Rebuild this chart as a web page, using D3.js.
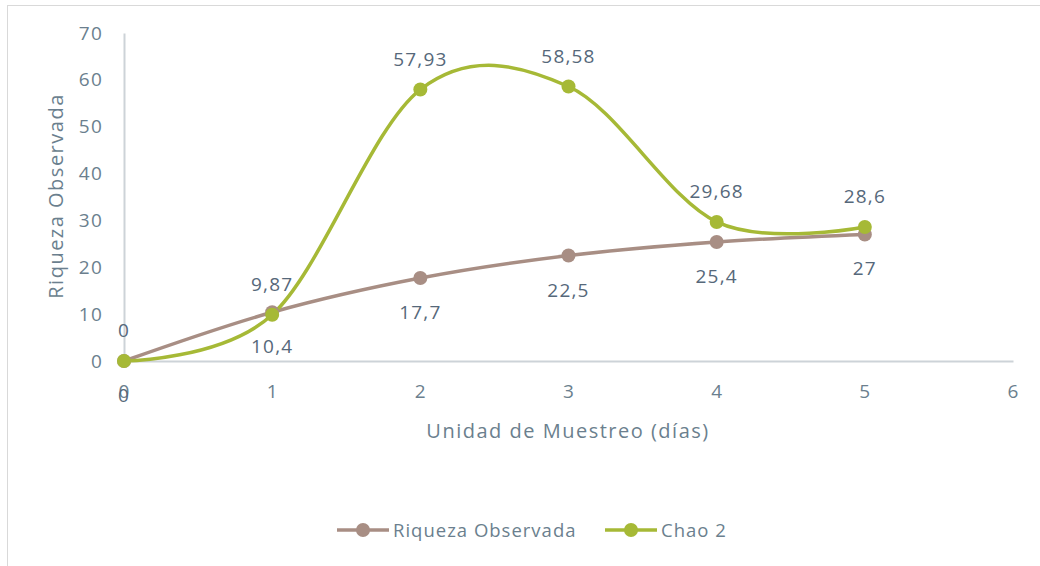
<!DOCTYPE html>
<html><head><meta charset="utf-8">
<script src="https://cdn.jsdelivr.net/npm/d3@7"></script>
<style>body{margin:0;background:#fff}svg{display:block}text{font-family:"Open Sans",sans-serif}</style>
</head><body>
<svg id="c" width="1040" height="566"></svg>
<script>
const days = [0, 1, 2, 3, 4, 5];
const riqueza = [0, 10.4, 17.7, 22.5, 25.4, 27];
const chao2 = [0, 9.87, 57.93, 58.58, 29.68, 28.6];
const riquezaLabels = ["0", "10,4", "17,7", "22,5", "25,4", "27"];
const chaoLabels = ["0", "9,87", "57,93", "58,58", "29,68", "28,6"];
const xTicks = [0, 1, 2, 3, 4, 5, 6];
const yTicks = [0, 10, 20, 30, 40, 50, 60, 70];
const seriesNames = ["Riqueza Observada", "Chao 2"];
const colors = ["#a88e84", "#a6b936"];

const svg = d3.select("#c");
svg.append("rect").attr("x", 7.5).attr("y", 5.5).attr("width", 1100).attr("height", 700)
  .attr("fill", "none").attr("stroke", "#d9d9d9").attr("stroke-width", 1);

const x = d3.scaleLinear().domain([0, 6]).range([124, 1013]);
const y = d3.scaleLinear().domain([0, 70]).range([361, 33]);
const axisColor = "#cdd3d8", tickColor = "#6b7f8e", labelColor = "#56687a";

const gx = svg.append("g").attr("transform", `translate(0,${y(0)})`)
  .call(d3.axisBottom(x).tickValues(xTicks).tickFormat(d3.format("d")).tickSize(0).tickPadding(24));
const gy = svg.append("g").attr("transform", `translate(${x(0)},0)`)
  .call(d3.axisLeft(y).tickValues(yTicks).tickFormat(d3.format("d")).tickSize(0).tickPadding(21));
[gx, gy].forEach(g => {
  g.select(".domain").attr("stroke", axisColor).attr("stroke-width", 2);
  g.selectAll("text").attr("fill", tickColor).style("font-size", "19px")
    .style("letter-spacing", "1.2px").style("font-family", '"Open Sans",sans-serif');
});

svg.append("text").attr("x", 568).attr("y", 438).attr("text-anchor", "middle")
  .attr("fill", tickColor).style("font-size", "20px").style("letter-spacing", "1.5px")
  .text("Unidad de Muestreo (días)");
svg.append("text").attr("transform", "translate(63,196) rotate(-90)").attr("text-anchor", "middle")
  .attr("fill", tickColor).style("font-size", "20px").style("letter-spacing", "1.5px")
  .text("Riqueza Observada");

const line = d3.line().x((d, i) => x(days[i])).y(d => y(d)).curve(d3.curveCardinal.tension(0));
const data = [riqueza, chao2];
data.forEach((s, k) => {
  svg.append("path").datum(s).attr("d", line).attr("fill", "none")
    .attr("stroke", colors[k]).attr("stroke-width", 3.5).attr("stroke-linecap", "round");
});
data.forEach((s, k) => {
  svg.selectAll(null).data(s).enter().append("circle")
    .attr("cx", (d, i) => x(days[i])).attr("cy", d => y(d)).attr("r", 7).attr("fill", colors[k]);
});
svg.selectAll(null).data(riqueza).enter().append("text")
  .attr("x", (d, i) => x(days[i])).attr("y", d => y(d) + 41).attr("text-anchor", "middle")
  .attr("fill", labelColor).style("font-size", "19px").style("letter-spacing", "1.2px")
  .text((d, i) => riquezaLabels[i]);
svg.selectAll(null).data(chao2).enter().append("text")
  .attr("x", (d, i) => x(days[i])).attr("y", d => y(d) - 24).attr("text-anchor", "middle")
  .attr("fill", labelColor).style("font-size", "19px").style("letter-spacing", "1.2px")
  .text((d, i) => chaoLabels[i]);

const leg = [{x0: 337, tx: 393}, {x0: 605, tx: 661}];
seriesNames.forEach((n, k) => {
  const g = svg.append("g");
  g.append("line").attr("x1", leg[k].x0).attr("x2", leg[k].x0 + 52).attr("y1", 530).attr("y2", 530)
    .attr("stroke", colors[k]).attr("stroke-width", 3.5);
  g.append("circle").attr("cx", leg[k].x0 + 26).attr("cy", 530).attr("r", 7).attr("fill", colors[k]);
  g.append("text").attr("x", leg[k].tx).attr("y", 537).attr("fill", tickColor)
    .style("font-size", "18.5px").style("letter-spacing", "1px").text(n);
});
</script>
</body></html>
